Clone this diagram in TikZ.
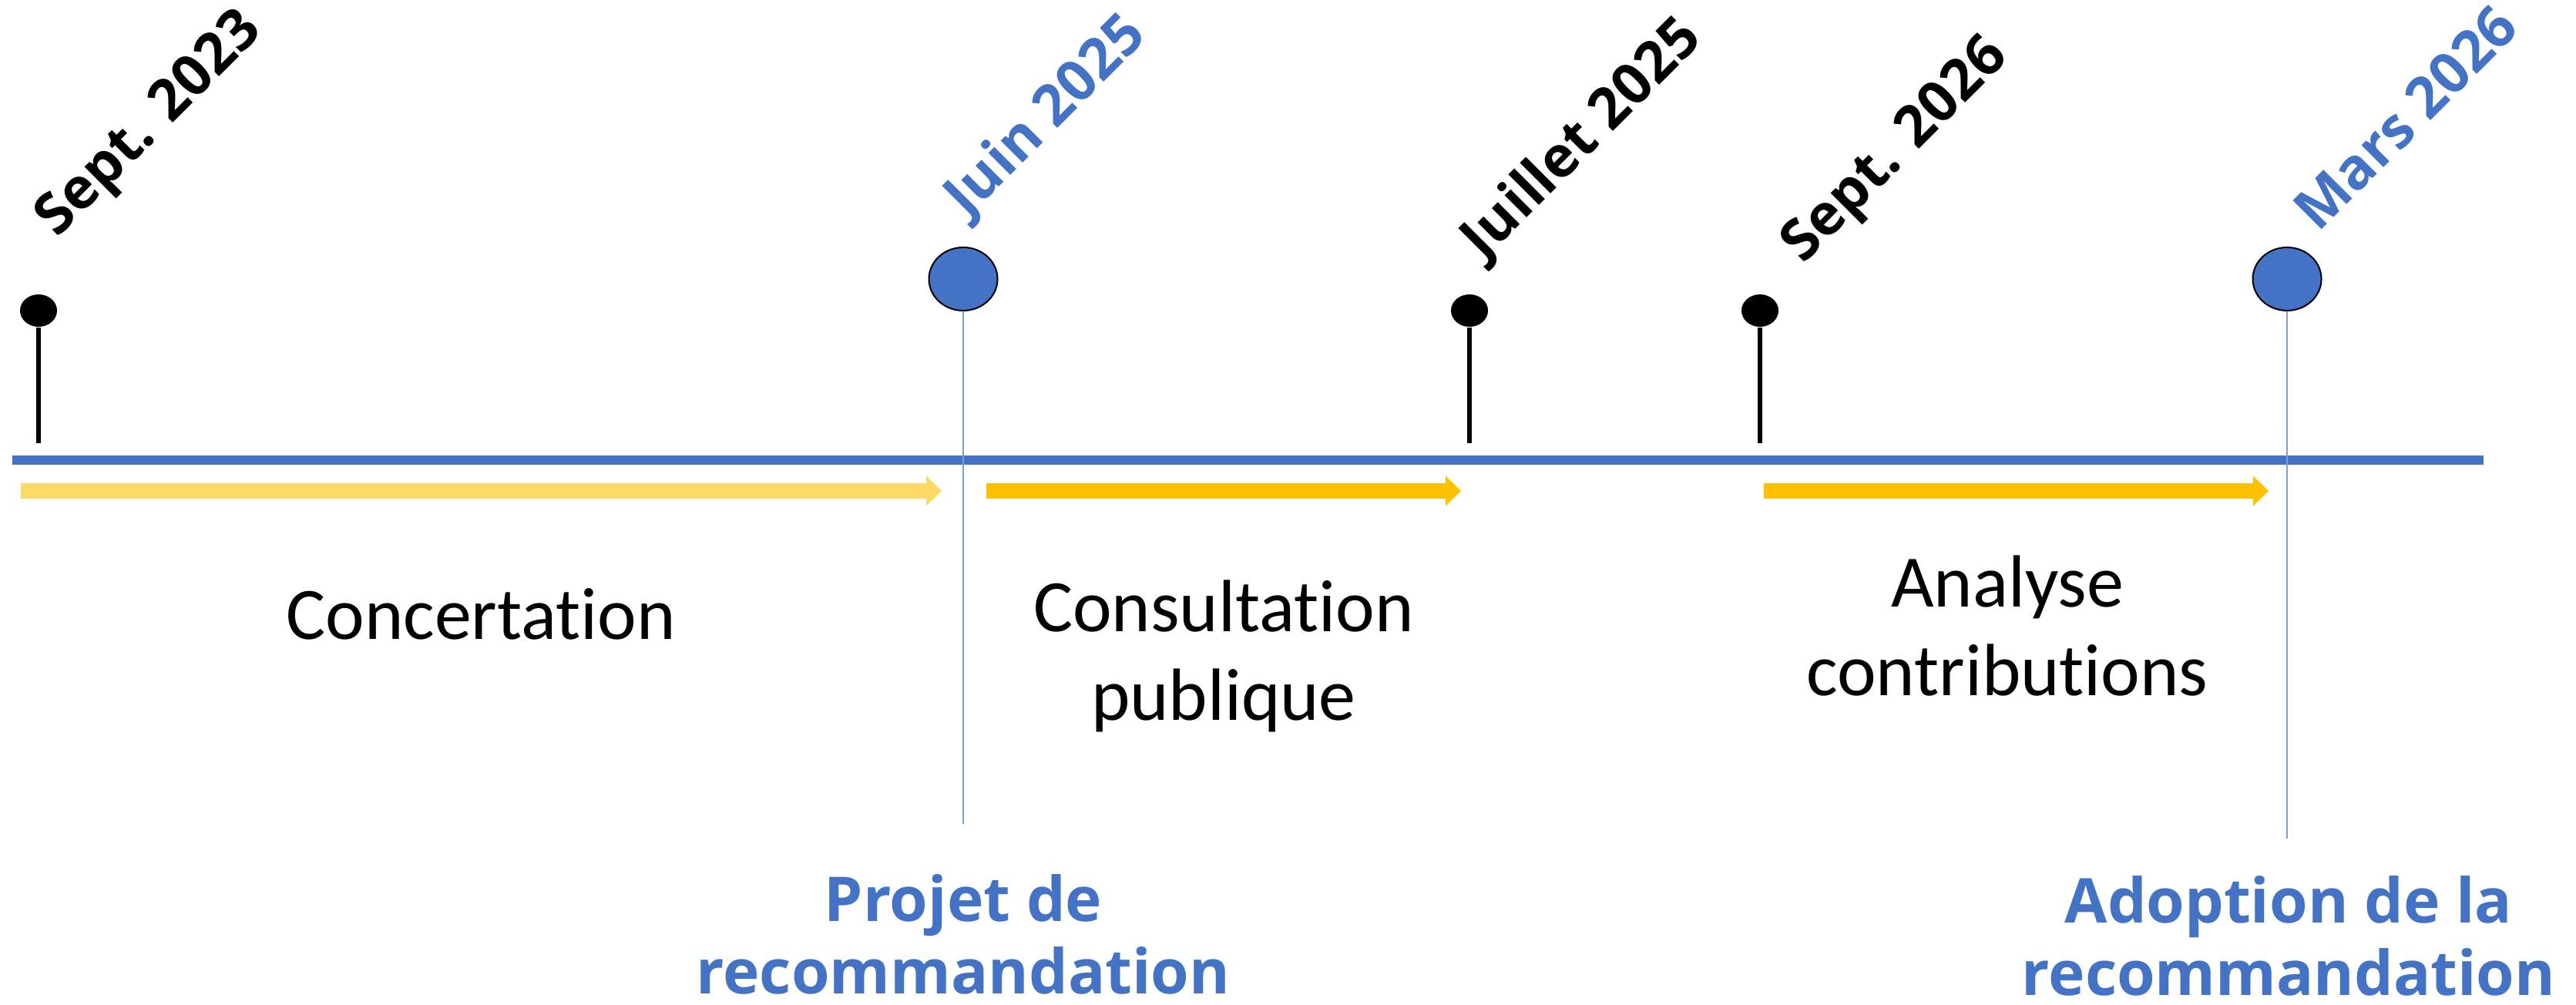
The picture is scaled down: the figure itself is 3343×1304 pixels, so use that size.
\documentclass[tikz,border=0pt]{standalone}
\usepackage{fontspec}
\setmainfont{Carlito}[Ligatures={NoCommon,NoContextual}]
\newfontfamily\boldsans{Open Sans}
\usetikzlibrary{positioning}
\usetikzlibrary{arrows.meta}
\usetikzlibrary{shapes.geometric}
\definecolor{axisblue}{HTML}{4472C4}
\definecolor{guideblue}{HTML}{7F9FDB}
\definecolor{paleyellow}{HTML}{FFD966}
\definecolor{gold}{HTML}{FFC000}
\tikzset{axis/.style={line width=0.12cm, axisblue}}
\tikzset{pinhead/.style={ellipse, fill=black, minimum width=0.48cm, minimum height=0.42cm, inner sep=0pt}}
\tikzset{stem/.style={line width=0.06cm}}
\tikzset{milestone/.style={ellipse, draw=black, line width=0.02cm, fill=axisblue, minimum width=0.89cm, minimum height=0.82cm, inner sep=0pt}}
\tikzset{guide/.style={line width=0.02cm, guideblue}}
\tikzset{phase/.style={line width=0.2cm, -{Triangle[width=0.39cm, length=0.2cm, line width=0pt]}}}
\tikzset{date/.style={rotate=45, anchor=base west, inner sep=0pt, font=\boldsans\bfseries\fontsize{21}{25}\selectfont}}
\tikzset{stage/.style={align=center, inner sep=0pt, font=\fontsize{27.3}{32.7}\selectfont}}
\tikzset{outcome/.style={align=center, inner sep=0pt, text=axisblue, font=\boldsans\bfseries\fontsize{22.8}{26.7}\selectfont}}

\begin{document}
\begin{tikzpicture}[x=0.01cm, y=-0.01cm]
\useasboundingbox (0,0) rectangle (3343,1304);

\coordinate (start) at (16,597);
\coordinate (end) at (3223,597);
\draw[axis] (start) -- (end);

\node[pinhead] (sep23) at (50,403) {};
\node[milestone] (jun25) at (1250,362) {};
\node[pinhead] (jul25) at (1907,403) {};
\node[pinhead] (sep26) at (2284,403) {};
\node[milestone] (mar26) at (2968,362) {};

\coordinate (sep23b) at (50,575);
\coordinate (jul25b) at (1907,575);
\coordinate (sep26b) at (2284,575);
\coordinate (jun25b) at (1250,1069);
\coordinate (mar26b) at (2968,1088);

\draw[stem] (sep23) -- (sep23b);
\draw[stem] (jul25) -- (jul25b);
\draw[stem] (sep26) -- (sep26b);
\draw[guide] (jun25) -- (jun25b);
\draw[guide] (mar26) -- (mar26b);

\node[date] (dsep23) at (74,310) {Sept. 2023};
\node[date, text=axisblue] (djun25) at (1255,284) {Juin 2025};
\node[date] (djul25) at (1925,339) {Juillet 2025};
\node[date] (dsep26) at (2340,344) {Sept. 2026};
\node[date, text=axisblue] (dmar26) at (3008,303) {Mars 2026};

\coordinate (c1) at (27,637);
\coordinate (c2) at (1222,637);
\coordinate (p1) at (1280,637);
\coordinate (p2) at (1896,637);
\coordinate (a1) at (2289,637);
\coordinate (a2) at (2944,637);
\draw[phase, paleyellow] (c1) -- (c2);
\draw[phase, gold] (p1) -- (p2);
\draw[phase, gold] (a1) -- (a2);

\node[stage, anchor=base] (concert) at (624,830) {Concertation};
\node[stage] (consult) at (1588,851) {Consultation\\publique};
\node[stage] (analyse) at (2605,812) {Analyse\\contributions};

\node[outcome] (projet) at (1250,1212) {Projet de\\recommandation};
\node[outcome] (adopt) at (2970,1214) {Adoption de la\\recommandation};
\end{tikzpicture}
\end{document}
